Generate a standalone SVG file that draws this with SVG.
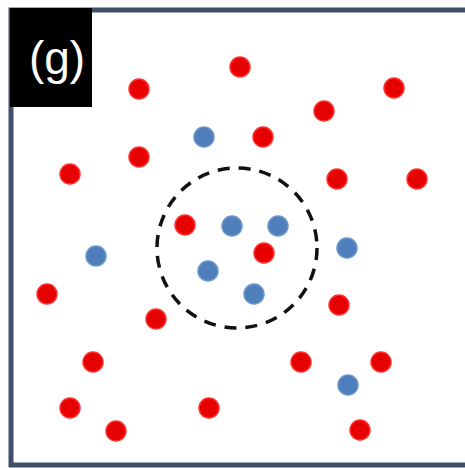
<svg xmlns="http://www.w3.org/2000/svg" width="465" height="468" viewBox="0 0 465 468">
<style>
.r{fill:#e60000;stroke:#ff3030;stroke-width:1.5}
.b{fill:#4f7fba;stroke:#6a95cc;stroke-width:1.5}
</style>
<rect width="465" height="468" fill="#ffffff"/>
<rect id="frame" x="11" y="10" width="462" height="455" fill="none" stroke="#3f5068" stroke-width="5"/>
<g id="label">
<rect x="10" y="8" width="82" height="99" fill="#000000"/>
<text x="57" y="74" font-family="Liberation Sans, Arial, sans-serif" font-size="46" fill="#ffffff" text-anchor="middle">(g)</text>
</g>
<g id="connectors"></g>
<g id="region"><circle cx="237" cy="248" r="80" fill="none" stroke="#111111" stroke-width="3.5" stroke-dasharray="12 9"/></g>
<g id="red">
<circle id="r1" class="r" cx="139" cy="89" r="10"/>
<circle id="r2" class="r" cx="240" cy="67" r="10"/>
<circle id="r3" class="r" cx="324" cy="111" r="10"/>
<circle id="r4" class="r" cx="394" cy="88" r="10"/>
<circle id="r5" class="r" cx="263" cy="137" r="10"/>
<circle id="r6" class="r" cx="139" cy="157" r="10"/>
<circle id="r7" class="r" cx="70" cy="174" r="10"/>
<circle id="r8" class="r" cx="337" cy="179" r="10"/>
<circle id="r9" class="r" cx="417" cy="179" r="10"/>
<circle id="r10" class="r" cx="185" cy="225" r="10"/>
<circle id="r11" class="r" cx="264" cy="253" r="10"/>
<circle id="r12" class="r" cx="47" cy="294" r="10"/>
<circle id="r13" class="r" cx="156" cy="319" r="10"/>
<circle id="r14" class="r" cx="339" cy="305" r="10"/>
<circle id="r15" class="r" cx="93" cy="362" r="10"/>
<circle id="r16" class="r" cx="301" cy="362" r="10"/>
<circle id="r17" class="r" cx="381" cy="362" r="10"/>
<circle id="r18" class="r" cx="70" cy="408" r="10"/>
<circle id="r19" class="r" cx="209" cy="408" r="10"/>
<circle id="r20" class="r" cx="116" cy="431" r="10"/>
<circle id="r21" class="r" cx="360" cy="430" r="10"/>
</g>
<g id="blue">
<circle id="b1" class="b" cx="204" cy="137" r="10"/>
<circle id="b2" class="b" cx="232" cy="226" r="10"/>
<circle id="b3" class="b" cx="278" cy="226" r="10"/>
<circle id="b4" class="b" cx="96" cy="256" r="10"/>
<circle id="b5" class="b" cx="347" cy="248" r="10"/>
<circle id="b6" class="b" cx="208" cy="271" r="10"/>
<circle id="b7" class="b" cx="254" cy="294" r="10"/>
<circle id="b8" class="b" cx="348" cy="385" r="10"/>
</g>
</svg>
